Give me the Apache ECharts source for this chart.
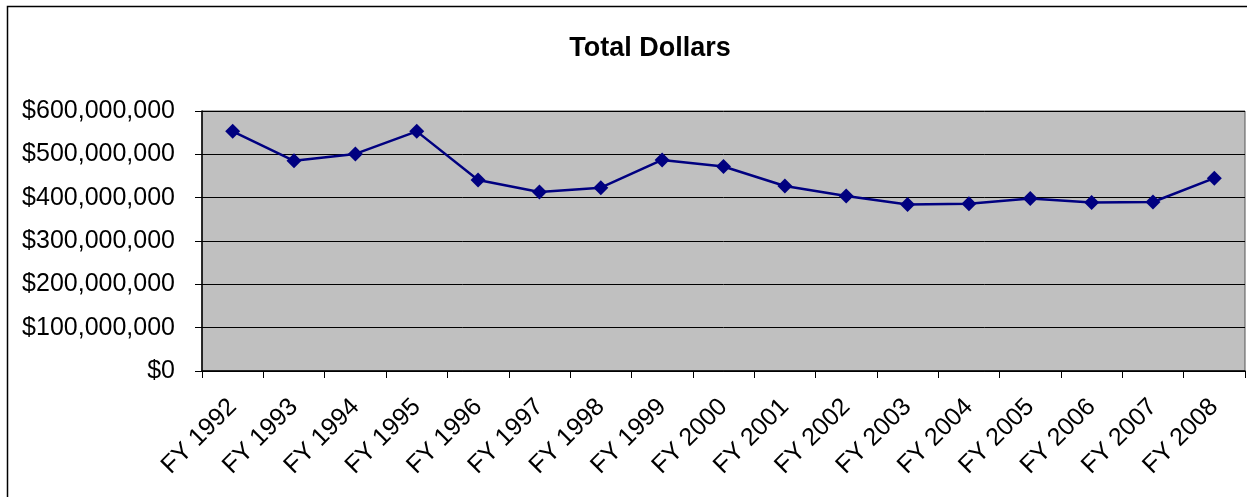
<!DOCTYPE html>
<html>
<head>
<meta charset="utf-8">
<script src="https://cdn.jsdelivr.net/npm/echarts@6/dist/echarts.min.js"></script>
<style>
  html, body { margin: 0; padding: 0; background: #fff; }
  #chart { width: 1247px; height: 497px; }
</style>
</head>
<body>
<div id="chart"></div>
<script>
  // 年度
  var years = ['FY 1992', 'FY 1993', 'FY 1994', 'FY 1995', 'FY 1996', 'FY 1997',
    'FY 1998', 'FY 1999', 'FY 2000', 'FY 2001', 'FY 2002', 'FY 2003',
    'FY 2004', 'FY 2005', 'FY 2006', 'FY 2007', 'FY 2008'];
  // 总金额
  var totals = [553000000, 485000000, 501000000, 553000000, 441000000, 413000000,
    423000000, 487000000, 472000000, 427000000, 404000000, 384000000,
    386000000, 398000000, 389000000, 390000000, 445000000];

  var font = 'Liberation Sans, Arial, sans-serif';

  function money(v) {
    return '$' + String(v).replace(/\B(?=(\d{3})+(?!\d))/g, ',');
  }

  var myChart = echarts.init(document.getElementById('chart'));
  myChart.setOption({
    animation: false,
    backgroundColor: '#fff',
    title: {
      text: 'Total Dollars',
      left: 645,
      top: 30,
      textAlign: 'center',
      textStyle: { color: '#000', fontSize: 27, fontWeight: 'bold', fontFamily: font }
    },
    graphic: [{
      type: 'rect',
      shape: { x: 7.5, y: 6.5, width: 1260, height: 520 },
      style: { fill: 'none', stroke: '#000', lineWidth: 1.5 },
      silent: true
    }],
    grid: {
      left: 202,
      right: 2,
      top: 111,
      bottom: 126,
      show: true,
      backgroundColor: '#c0c0c0',
      borderColor: '#555',
      borderWidth: 1
    },
    xAxis: {
      type: 'category',
      data: years,
      boundaryGap: true,
      axisLine: { lineStyle: { color: '#000', width: 1.5 } },
      axisTick: { show: true, length: 7, interval: 0, lineStyle: { color: '#000' } },
      axisLabel: {
        interval: 0,
        rotate: 45,
        margin: 32,
        color: '#000',
        fontSize: 25,
        fontFamily: font
      }
    },
    yAxis: {
      type: 'value',
      min: 0,
      max: 600000000,
      interval: 100000000,
      axisLine: { show: true, lineStyle: { color: '#000', width: 1.5 } },
      axisTick: { show: true, length: 7, lineStyle: { color: '#000' } },
      axisLabel: {
        margin: 27,
        color: '#000',
        fontSize: 25,
        fontFamily: font,
        formatter: money
      },
      splitLine: { show: true, lineStyle: { color: '#000', width: 1 } }
    },
    series: [{
      type: 'line',
      data: totals,
      symbol: 'diamond',
      symbolSize: 15,
      itemStyle: { color: '#000080' },
      lineStyle: { color: '#000080', width: 2.5 }
    }]
  });
</script>
</body>
</html>
